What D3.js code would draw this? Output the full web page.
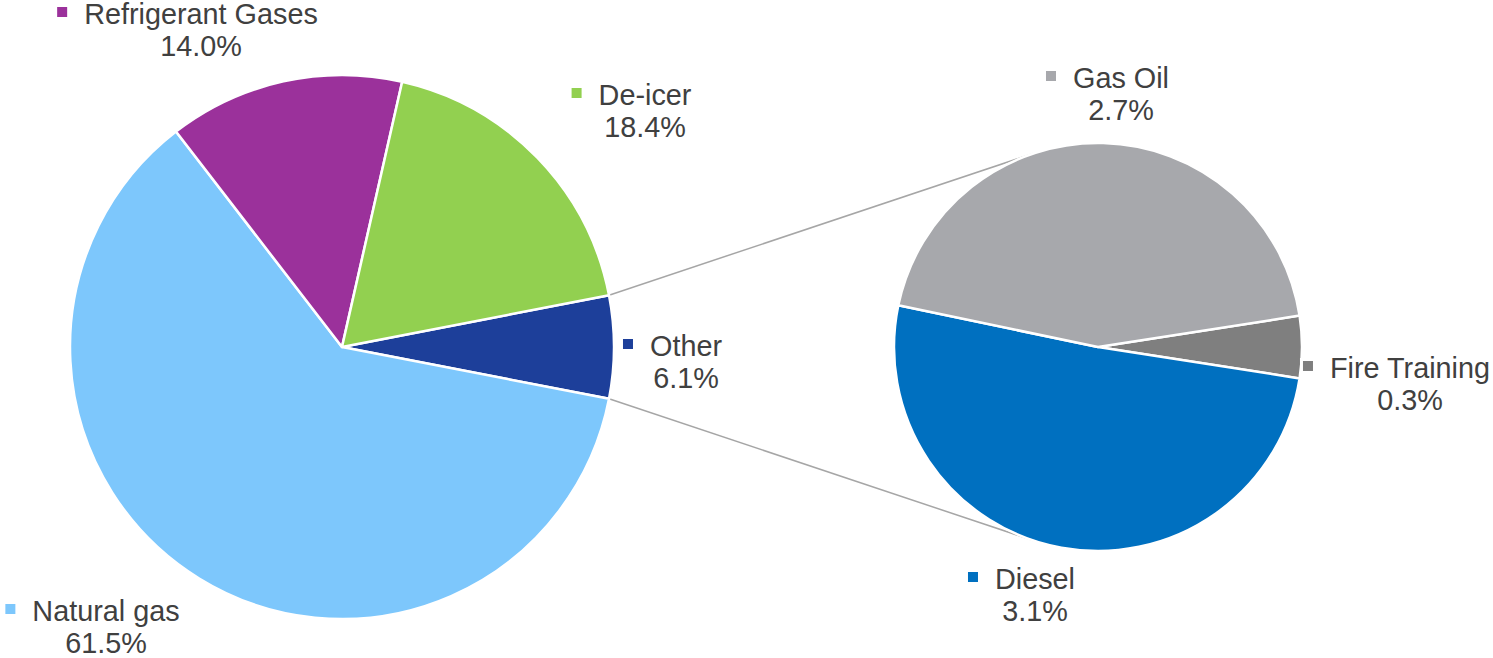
<!DOCTYPE html>
<html>
<head>
<meta charset="utf-8">
<script src="https://cdn.jsdelivr.net/npm/d3@7/dist/d3.min.js"></script>
<style>
  html, body { margin: 0; padding: 0; background: #ffffff; }
  svg { display: block; }
  text { font-family: "Liberation Sans", Arial, sans-serif; fill: #404040; }
</style>
</head>
<body>
<svg id="chart" width="1493" height="658"></svg>
<script>
// Emission sources (share of total, %)
const mainCategories = ["Other", "Natural gas", "Refrigerant Gases", "De-icer"];
const mainValues = [6.1, 61.5, 14.0, 18.4];
const mainColors = ["#1d3f9a", "#7dc7fc", "#9b319b", "#92d050"];

// Breakdown of "Other"
const subCategories = ["Fire Training", "Diesel", "Gas Oil"];
const subValues = [0.3, 3.1, 2.7];
const subColors = ["#7f7f7f", "#0070c0", "#a7a8ac"];

// Layout
const W = 1493, H = 658;
const mainPie = { cx: 342, cy: 347, r: 272 };
const subPie = { cx: 1098, cy: 347, r: 204 };
// label block anchors: [centre x, first-line baseline], per slice in data order
const mainLabelAt = [[686, 356], [106, 621], [201, 24], [645, 105]];
const subLabelAt = [[1410, 378], [1035, 589], [1121, 88]];

const svg = d3.select("#chart");

const fmt = v => v.toFixed(1) + "%";

function drawPie(cfg, values, colors, startAngle) {
  const total = d3.sum(values);
  const pie = d3.pie().sort(null).value(d => d)
    .startAngle(startAngle).endAngle(startAngle + 2 * Math.PI);
  const arcs = pie(values);
  const arc = d3.arc().innerRadius(0).outerRadius(cfg.r);
  const g = svg.append("g").attr("transform", `translate(${cfg.cx},${cfg.cy})`);
  g.selectAll("path").data(arcs).join("path")
    .attr("d", arc)
    .attr("fill", (d, i) => colors[i])
    .attr("stroke", "#ffffff")
    .attr("stroke-width", 2.5)
    .attr("stroke-linejoin", "round");
  return arcs;
}

// Main pie: "Other" slice centred on the right-hand side
const otherShare = mainValues[0] / d3.sum(mainValues);
const mainStart = Math.PI / 2 - otherShare * Math.PI;
const subShareFirst = subValues[0] / d3.sum(subValues);
const subStart = Math.PI / 2 - subShareFirst * Math.PI;

// Connector lines from the split slice to the tangents of the secondary pie
function polar(cfg, a) {
  return [cfg.cx + cfg.r * Math.sin(a), cfg.cy - cfg.r * Math.cos(a)];
}
function tangentPoint(p, c, r, upper) {
  const dx = p[0] - c.cx, dy = p[1] - c.cy;
  const d = Math.hypot(dx, dy);
  const base = Math.atan2(dy, dx);
  const off = Math.acos(r / d);
  const a = upper ? base + off : base - off;
  return [c.cx + r * Math.cos(a), c.cy + r * Math.sin(a)];
}
const otherEnd = mainStart + otherShare * 2 * Math.PI;
const pTop = polar(mainPie, mainStart);
const pBot = polar(mainPie, otherEnd);
const tTop = tangentPoint(pTop, subPie, subPie.r, true);
const tBot = tangentPoint(pBot, subPie, subPie.r, false);

svg.append("g").selectAll("line")
  .data([[pTop, tTop], [pBot, tBot]])
  .join("line")
  .attr("x1", d => d[0][0]).attr("y1", d => d[0][1])
  .attr("x2", d => d[1][0]).attr("y2", d => d[1][1])
  .attr("stroke", "#a6a6a6")
  .attr("stroke-width", 1.5);

drawPie(mainPie, mainValues, mainColors, mainStart);
drawPie(subPie, subValues, subColors, subStart);

// Data labels: legend key + category name, value on the next line
function drawLabels(categories, values, colors, anchors) {
  const g = svg.append("g");
  categories.forEach((name, i) => {
    const [cx, y] = anchors[i];
    const lg = g.append("g");
    const t = lg.append("text")
      .attr("x", cx).attr("y", y)
      .attr("text-anchor", "middle")
      .style("font-size", "28.8px")
      .text(name);
    const w = t.node().getComputedTextLength();
    const left = cx - w / 2;
    lg.insert("rect", "text")
      .attr("x", left - 30).attr("y", y - 20)
      .attr("width", 16).attr("height", 16)
      .attr("fill", "#ffffff");
    lg.append("rect")
      .attr("x", left - 27).attr("y", y - 17)
      .attr("width", 10).attr("height", 10)
      .attr("fill", colors[i]);
    lg.append("text")
      .attr("x", cx).attr("y", y + 32)
      .attr("text-anchor", "middle")
      .style("font-size", "28.8px")
      .text(fmt(values[i]));
  });
}

drawLabels(mainCategories, mainValues, mainColors, mainLabelAt);
drawLabels(subCategories, subValues, subColors, subLabelAt);
</script>
</body>
</html>
